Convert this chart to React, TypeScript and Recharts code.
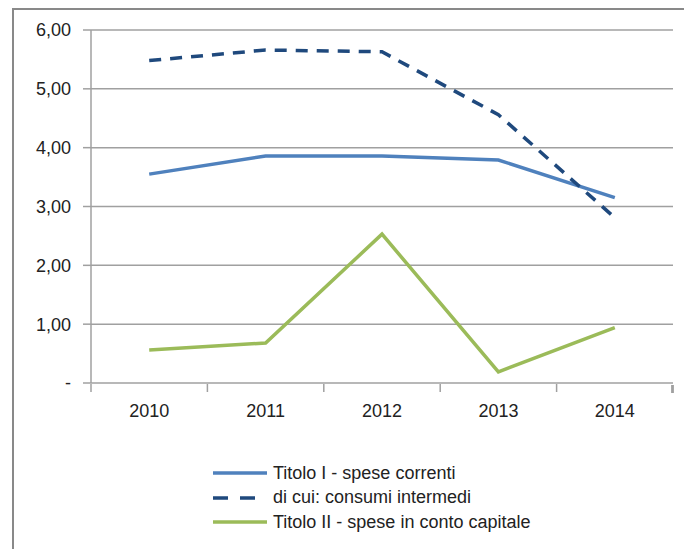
import { CartesianGrid, Legend, Line, LineChart, XAxis, YAxis } from "recharts"

const years = ["2010", "2011", "2012", "2013", "2014"]
const titoloI = [3.55, 3.86, 3.86, 3.79, 3.15]
const consumiIntermedi = [5.48, 5.66, 5.63, 4.56, 2.81]
const titoloII = [0.56, 0.68, 2.53, 0.19, 0.94]
const yTicks = [0, 1, 2, 3, 4, 5, 6]

const series = [
  { key: "titoloI", name: "Titolo I - spese correnti", color: "#4f81bd", dash: undefined },
  { key: "consumi", name: "di cui: consumi intermedi", color: "#1f497d", dash: "12 9" },
  { key: "titoloII", name: "Titolo II - spese in conto capitale", color: "#9bbb59", dash: undefined },
]

const data = years.map((year, i) => ({
  year,
  titoloI: titoloI[i],
  consumi: consumiIntermedi[i],
  titoloII: titoloII[i],
}))

const font = "'Liberation Sans', Arial, sans-serif"
const gray = "#a0a0a0"
const plotWidth = 582
const step = plotWidth / years.length

function formatValue(value: number): string {
  if (value === 0) return "-"
  return value.toFixed(2).replace(".", ",")
}

function LegendContent() {
  return (
    <div style={{ fontFamily: font, fontSize: 18, color: "#222" }}>
      {series.map((s) => (
        <div key={s.key} style={{ display: "flex", alignItems: "center", height: 24.5 }}>
          <svg width={58} height={8} style={{ marginRight: 4 }}>
            <line
              x1={2}
              y1={4}
              x2={56}
              y2={4}
              stroke={s.color}
              strokeWidth={3.5}
              strokeDasharray={s.dash ? "15 12" : undefined}
            />
          </svg>
          <span>{s.name}</span>
        </div>
      ))}
    </div>
  )
}

export default function App() {
  return (
    <div style={{ position: "absolute", left: 0, top: 0, width: 684, height: 549, background: "#fff" }}>
      <div
        style={{
          position: "absolute",
          left: 12,
          top: 8,
          right: 0,
          bottom: 0,
          borderTop: "2px solid #898989",
          borderLeft: "2px solid #898989",
        }}
      />
      <div style={{ position: "absolute", left: 0, top: 0 }}>
        <LineChart width={684} height={549} data={data} margin={{ top: 30, right: 11, bottom: 163, left: 0 }}>
          <CartesianGrid vertical={false} stroke={gray} strokeWidth={1.5} />
          <XAxis
            dataKey="year"
            padding={{ left: step / 2, right: step / 2 }}
            axisLine={false}
            tickLine={false}
            height={1}
            tickMargin={15}
            tick={{ fill: "#222", fontSize: 18, fontFamily: font }}
          />
          {/* left edges of the five year columns */}
          <XAxis
            xAxisId="edges"
            dataKey="year"
            padding={{ left: 0, right: step }}
            interval={0}
            tickFormatter={() => ""}
            tickSize={8}
            axisLine={false}
            tickLine={{ stroke: gray, strokeWidth: 1.5 }}
            height={1}
          />
          {/* right edge of the last column */}
          <XAxis
            xAxisId="end"
            dataKey="year"
            padding={{ left: plotWidth - 1, right: 0 }}
            interval={0}
            tickFormatter={() => ""}
            tickSize={8}
            axisLine={false}
            tickLine={{ stroke: gray, strokeWidth: 1.5 }}
            height={1}
          />
          <YAxis
            domain={[0, 6]}
            ticks={yTicks}
            width={91}
            tickFormatter={formatValue}
            tickSize={8}
            tickMargin={12}
            axisLine={{ stroke: gray, strokeWidth: 1.5 }}
            tickLine={{ stroke: gray, strokeWidth: 1.5 }}
            tick={{ fill: "#222", fontSize: 18, fontFamily: font }}
          />
          <Legend
            layout="vertical"
            align="center"
            verticalAlign="middle"
            wrapperStyle={{ top: 461, left: 211, width: 420 }}
            content={<LegendContent />}
          />
          {series.map((s) => (
            <Line
              key={s.key}
              dataKey={s.key}
              name={s.name}
              type="linear"
              stroke={s.color}
              strokeWidth={3.5}
              strokeDasharray={s.dash}
              dot={false}
              isAnimationActive={false}
            />
          ))}
        </LineChart>
      </div>
    </div>
  )
}
